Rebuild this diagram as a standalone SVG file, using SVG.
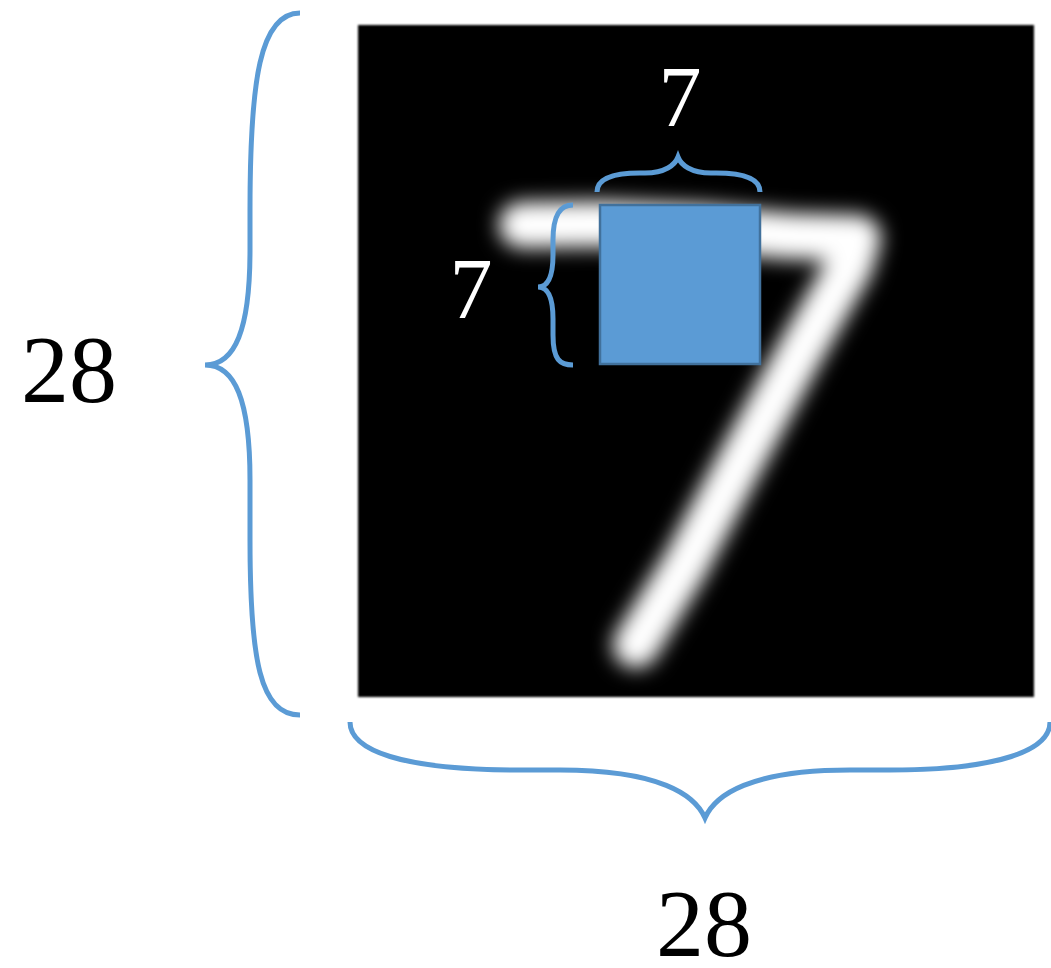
<svg xmlns="http://www.w3.org/2000/svg" width="1051" height="968" viewBox="0 0 1051 968">
<style>
.brace{fill:none;stroke:#5B9BD5;stroke-width:5;stroke-linecap:butt}
.lbl{font-family:"Liberation Serif","DejaVu Serif",serif;text-anchor:middle}
</style>
<defs>
<filter id="blur" x="-20%" y="-20%" width="140%" height="140%"><feGaussianBlur stdDeviation="10"/></filter>
<filter id="edge" x="-5%" y="-5%" width="110%" height="110%"><feGaussianBlur stdDeviation="1"/></filter>
</defs>
<rect width="1051" height="968" fill="#fff"/>
<g id="image">
<rect x="358" y="25" width="676" height="672" fill="#000" filter="url(#edge)"/>
<path d="M522 225 L600 224 L700 228 L790 236 L858 238 L850 265 L800 352 L740 462 L685 565 L636 645" fill="none" stroke="#fff" stroke-width="46" stroke-linejoin="round" stroke-linecap="round" filter="url(#blur)"/>
</g>
<g id="patch">
<rect x="600" y="205" width="160" height="159" fill="#5B9BD5" stroke="#41719C" stroke-width="2.5"/>
</g>
<g id="braces">
<path class="brace" d="M300 13 C260 13 250 80 250 210 L250 250 C250 330 235 365 205 365 C235 365 250 400 250 480 L250 540 C250 660 260 715 300 715"/>
<path class="brace" d="M350 722 C350 750 400 770 520 770 L560 770 C660 770 695 795 705 818 C715 795 750 770 850 770 L890 770 C1000 770 1050 750 1050 722"/>
<path class="brace" d="M597 192 C597 180 610 173 640 173 L645 173 C665 173 675 165 678 157 C681 165 691 173 711 173 L716 173 C746 173 760 180 760 192"/>
<path class="brace" d="M573 205 C560 205 553 215 553 240 L553 255 C553 275 548 287 538 287 C548 287 553 299 553 319 L553 335 C553 360 560 365 573 365"/>
</g>
<g id="labels">
<text class="lbl" x="69" y="402" font-size="96" fill="#000">28</text>
<text class="lbl" x="704" y="956" font-size="96" fill="#000">28</text>
<text class="lbl" x="680" y="126" font-size="86" fill="#fff">7</text>
<text class="lbl" x="471" y="318" font-size="86" fill="#fff">7</text>
</g>
</svg>
